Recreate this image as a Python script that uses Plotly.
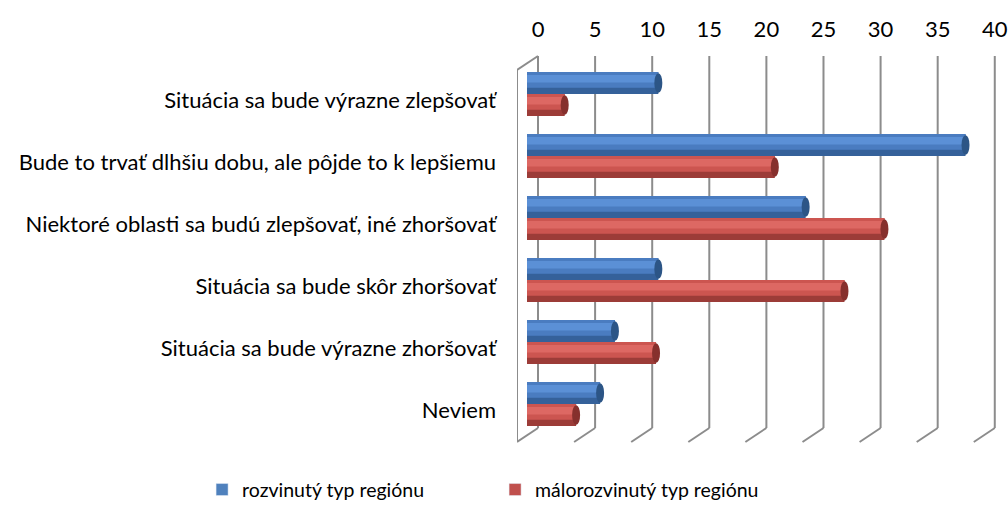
import plotly.graph_objects as go

categories = [
    "Situácia sa bude výrazne zlepšovať",
    "Bude to trvať dlhšiu dobu, ale pôjde to k lepšiemu",
    "Niektoré oblasti sa budú zlepšovať, iné zhoršovať",
    "Situácia sa bude skôr zhoršovať",
    "Situácia sa bude výrazne zhoršovať",
    "Neviem",
]
series_names = ["rozvinutý typ regiónu", "málorozvinutý typ regiónu"]
rozvinuty = [11.5, 38.4, 24.4, 11.5, 7.7, 6.4]
malorozvinuty = [3.3, 21.7, 31.3, 27.8, 11.3, 4.3]
tick_values = [0, 5, 10, 15, 20, 25, 30, 35, 40]

pos = list(range(len(categories)))
W = 0.355  # bar thickness in category units

FONT = "Lato"

fig = go.Figure()

# layered bars to imitate cylinders: (offset-from-top fraction, height fraction, color)
blue_layers = [(0.0, 1.0, "#35619a"), (0.0, 0.72, "#4a7cc0"), (0.14, 0.34, "#5b90d6")]
red_layers = [(0.0, 1.0, "#9c3c38"), (0.0, 0.72, "#cc5550"), (0.14, 0.34, "#dd6863")]
cap_colors = ["#2c5586", "#86302d"]
legend_colors = ["#4f81bd", "#c0504d"]

for s, (vals, layers, base_off) in enumerate([
    (rozvinuty, blue_layers, -W),
    (malorozvinuty, red_layers, 0.0),
]):
    for li, (fo, fh, col) in enumerate(layers):
        fig.add_trace(go.Bar(
            x=vals, y=pos, orientation="h",
            offset=base_off + fo * W, width=fh * W,
            marker=dict(color=col, line=dict(width=0)),
            name=series_names[s],
            showlegend=False,
            legendgroup=series_names[s],
            hoverinfo="skip" if li != 1 else None,
        ))
    # end caps (ellipses) anchored at the data values
    for v, p in zip(vals, pos):
        fig.add_shape(type="circle", xref="x", yref="y",
                      xsizemode="pixel", xanchor=v, x0=-4, x1=4,
                      y0=p + base_off + 0.02, y1=p + base_off + W - 0.02,
                      fillcolor=cap_colors[s], line=dict(width=0), layer="above")
    # legend entry
    fig.add_trace(go.Bar(x=[None], y=[None], orientation="h", name=series_names[s],
                         marker=dict(color=legend_colors[s]), legendgroup=series_names[s],
                         showlegend=True))

# 3D-looking gridlines (back wall verticals + floor slants)
TOP, BACK_BOT, FRONT_TOP = 1.0, 0.0363, 0.9637
GRID = dict(color="#8c8c8c", width=2)
for v in tick_values:
    fig.add_shape(type="line", xref="x", yref="paper", xsizemode="pixel", xanchor=v,
                  x0=11, x1=11, y0=BACK_BOT, y1=TOP, line=GRID, layer="below")
    fig.add_shape(type="line", xref="x", yref="paper", xsizemode="pixel", xanchor=v,
                  x0=11, x1=-10, y0=BACK_BOT, y1=0, line=GRID, layer="below")
# side wall front edge and top slant at zero
fig.add_shape(type="line", xref="x", yref="paper", xsizemode="pixel", xanchor=tick_values[0],
              x0=-10, x1=-10, y0=0, y1=FRONT_TOP, line=GRID, layer="below")
fig.add_shape(type="line", xref="x", yref="paper", xsizemode="pixel", xanchor=tick_values[0],
              x0=-10, x1=11, y0=FRONT_TOP, y1=TOP, line=GRID, layer="below")

fig.update_layout(
    width=1008, height=509,
    margin=dict(l=517, r=8, t=56, b=67, autoexpand=False),
    paper_bgcolor="white", plot_bgcolor="white",
    barmode="overlay",
    font=dict(family=FONT, size=22, color="#000000"),
    showlegend=True,
    legend=dict(orientation="h", x=-0.652, xanchor="left", y=-0.124, yanchor="middle",
                font=dict(family=FONT, size=19.5, color="#000000"),
                entrywidth=248, entrywidthmode="pixels", itemwidth=30,
                bgcolor="rgba(0,0,0,0)"),
    xaxis=dict(range=[-0.876, 41.42], side="top", tickvals=tick_values,
               ticktext=[str(t) for t in tick_values], automargin=False,
               showgrid=False, zeroline=False, showline=False, ticks="",
               ticklabelshift=11, ticklabelstandoff=14,
               tickfont=dict(family=FONT, size=22, color="#000000")),
    yaxis=dict(range=[5.613, -0.613], tickvals=pos, ticktext=categories, automargin=False,
               showgrid=False, zeroline=False, showline=False, ticks="",
               ticklabelshift=-6, ticklabelstandoff=20,
               tickfont=dict(family=FONT, size=22, color="#000000")),
)

fig.write_html("out.html", config={"displayModeBar": False},
               post_script="document.body.style.margin='0';")
